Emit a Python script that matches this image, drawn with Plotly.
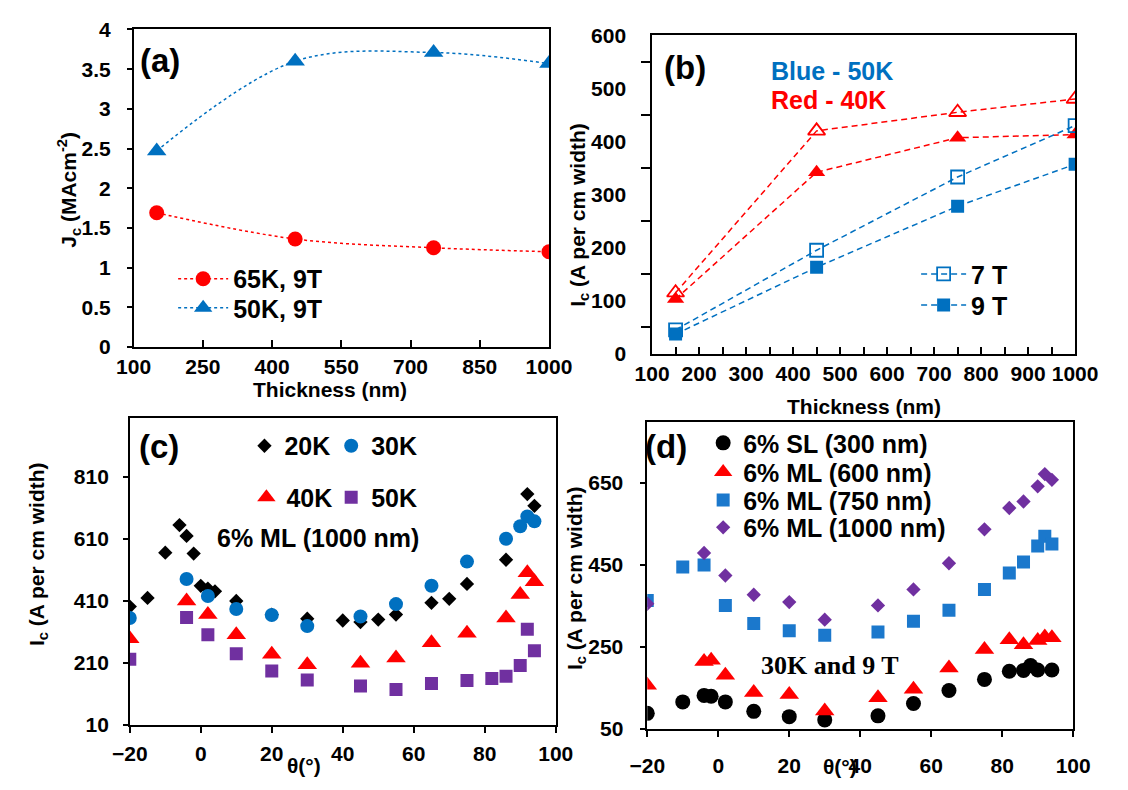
import plotly.graph_objects as go

W, H = 1128, 790
FONT = "Liberation Sans, Arial, sans-serif"
RED = "#FF0000"
BLUE = "#0070C0"
BLUE2 = "#1B78CC"
PURPLE = "#7030A0"
BLACK = "#000000"

# ---------------- data ----------------
# (a) Jc vs thickness
thick_a = [150, 450, 750, 1000]
jc_65K_9T = [1.69, 1.36, 1.25, 1.20]
jc_50K_9T = [2.47, 3.60, 3.71, 3.57]

# (b) Ic vs thickness
thick_b = [150, 450, 750, 1000]
ic_40K_7T = [115, 420, 455, 480]
ic_40K_9T = [103, 342, 407, 413]
ic_50K_7T = [45, 195, 333, 430]
ic_50K_9T = [37, 163, 278, 357]

# (c) angular Ic, 6% ML (1000 nm)
th_20K = [-20, -15, -10, -6, -4, -2, 0, 2, 4, 10, 20, 30, 40, 45, 50, 55, 65, 70, 75, 86, 92, 94]
ic_20K = [391, 419, 565, 654, 619, 562, 458, 449, 440, 409, 365, 352, 346, 341, 349, 365, 403, 416, 464, 542, 754, 716]
th_30K = [-20, -4, 2, 10, 20, 30, 45, 55, 65, 75, 86, 90, 92, 94]
ic_30K = [354, 480, 425, 383, 364, 328, 359, 399, 458, 536, 610, 650, 682, 666]
th_40K = [-20, -4, 2, 10, 20, 30, 45, 55, 65, 75, 86, 90, 92, 94]
ic_40K = [287, 409, 365, 300, 237, 203, 208, 225, 274, 305, 354, 430, 500, 471]
th_50K = [-20, -4, 2, 10, 20, 30, 45, 55, 65, 75, 82, 86, 90, 92, 94]
ic_50K = [221, 356, 300, 239, 183, 154, 135, 123, 143, 152, 159, 166, 201, 318, 248]

# (d) angular Ic at 30K and 9 T
th_SL300 = [-20, -10, -4, -2, 2, 10, 20, 30, 45, 55, 65, 75, 82, 86, 88, 90, 94]
ic_SL300 = [87, 115, 131, 129, 115, 92, 79, 71, 81, 111, 143, 170, 190, 192, 204, 193, 193]
th_ML600 = [-20, -4, -2, 2, 10, 20, 30, 45, 55, 65, 75, 82, 86, 90, 92, 94]
ic_ML600 = [156, 214, 217, 180, 138, 133, 93, 125, 146, 198, 243, 267, 255, 265, 274, 272]
th_ML750 = [-20, -10, -4, 2, 10, 20, 30, 45, 55, 65, 75, 82, 86, 90, 92, 94]
ic_ML750 = [363, 445, 450, 351, 307, 289, 278, 286, 312, 339, 390, 430, 457, 496, 520, 501]
th_ML1000 = [-20, -4, 2, 10, 20, 30, 45, 55, 65, 75, 82, 86, 90, 92, 94]
ic_ML1000 = [355, 479, 424, 377, 359, 316, 351, 390, 454, 537, 589, 605, 642, 672, 658]

# tick labels
ticks_c_y = [10, 210, 410, 610, 810]
ticks_d_y = [50, 250, 450, 650]


def fx(px):
    return px / W


def fy(py):
    return 1 - py / H


fig = go.Figure()

# ---------- (a) ----------
fig.add_trace(go.Scatter(
    x=thick_a, y=jc_65K_9T, name="65K, 9T", mode="lines+markers",
    line=dict(color=RED, dash="dot", width=1.5, shape="spline"),
    marker=dict(symbol="circle", size=15, color=RED),
    xaxis="x", yaxis="y", legend="legend"))
fig.add_trace(go.Scatter(
    x=thick_a, y=jc_50K_9T, name="50K, 9T", mode="lines+markers",
    line=dict(color=BLUE, dash="dot", width=1.5, shape="spline"),
    marker=dict(symbol="triangle-up", size=17, color=BLUE),
    xaxis="x", yaxis="y", legend="legend2"))

# ---------- (b) ----------
dash_b = "6px,4px"
fig.add_trace(go.Scatter(
    x=thick_b, y=ic_40K_7T, name="40K 7T", mode="lines+markers", showlegend=False,
    line=dict(color=RED, dash=dash_b, width=1.5),
    marker=dict(symbol="triangle-up-open", size=15, color=RED, line=dict(width=1.8)),
    xaxis="x2", yaxis="y2"))
fig.add_trace(go.Scatter(
    x=thick_b, y=ic_40K_9T, name="40K 9T", mode="lines+markers", showlegend=False,
    line=dict(color=RED, dash=dash_b, width=1.5),
    marker=dict(symbol="triangle-up", size=15, color=RED),
    xaxis="x2", yaxis="y2"))
fig.add_trace(go.Scatter(
    x=thick_b, y=ic_50K_7T, name="7 T", mode="lines+markers",
    line=dict(color=BLUE, dash=dash_b, width=1.5),
    marker=dict(symbol="square-open", size=13, color=BLUE, line=dict(width=1.8)),
    xaxis="x2", yaxis="y2", legend="legend3"))
fig.add_trace(go.Scatter(
    x=thick_b, y=ic_50K_9T, name="9 T", mode="lines+markers",
    line=dict(color=BLUE, dash=dash_b, width=1.5),
    marker=dict(symbol="square", size=13, color=BLUE),
    xaxis="x2", yaxis="y2", legend="legend4"))

# ---------- (c) ----------
fig.add_trace(go.Scatter(
    x=th_20K, y=ic_20K, name="20K", mode="markers",
    marker=dict(symbol="diamond", size=11, color=BLACK),
    xaxis="x3", yaxis="y3", legend="legend5"))
fig.add_trace(go.Scatter(
    x=th_30K, y=ic_30K, name="30K", mode="markers",
    marker=dict(symbol="circle", size=14, color=BLUE),
    xaxis="x3", yaxis="y3", legend="legend6"))
fig.add_trace(go.Scatter(
    x=th_40K, y=ic_40K, name="40K", mode="markers",
    marker=dict(symbol="triangle-up", size=17, color=RED),
    xaxis="x3", yaxis="y3", legend="legend7"))
fig.add_trace(go.Scatter(
    x=th_50K, y=ic_50K, name="50K", mode="markers",
    marker=dict(symbol="square", size=13, color=PURPLE),
    xaxis="x3", yaxis="y3", legend="legend8"))

# ---------- (d) ----------
fig.add_trace(go.Scatter(
    x=th_SL300, y=ic_SL300, name="6% SL (300 nm)", mode="markers",
    marker=dict(symbol="circle", size=15, color=BLACK),
    xaxis="x4", yaxis="y4", legend="legend9"))
fig.add_trace(go.Scatter(
    x=th_ML600, y=ic_ML600, name="6% ML (600 nm)", mode="markers",
    marker=dict(symbol="triangle-up", size=17, color=RED),
    xaxis="x4", yaxis="y4", legend="legend10"))
fig.add_trace(go.Scatter(
    x=th_ML750, y=ic_ML750, name="6% ML (750 nm)", mode="markers",
    marker=dict(symbol="square", size=13, color=BLUE2),
    xaxis="x4", yaxis="y4", legend="legend11"))
fig.add_trace(go.Scatter(
    x=th_ML1000, y=ic_ML1000, name="6% ML (1000 nm)", mode="markers",
    marker=dict(symbol="diamond", size=11, color=PURPLE),
    xaxis="x4", yaxis="y4", legend="legend12"))

# ---------------- axes ----------------
tickfont = dict(family=FONT, size=21, color=BLACK, weight="bold")


def axis(domain, rng, anchor, ticks, ticklen, **kw):
    d = dict(domain=domain, range=rng, anchor=anchor, showline=True, mirror=True,
             linecolor=BLACK, linewidth=1.5, showgrid=False, zeroline=False,
             ticks=ticks, ticklen=ticklen, tickwidth=1.5, tickcolor=BLACK,
             tickfont=tickfont)
    d.update(kw)
    return d


xa = [fx(120), fx(551)]
ya = [fy(345), fy(18)]
xb = [fx(658), fx(1097)]
yb = [fy(352), fy(24)]
xc = [fx(116), fx(558)]
yc = [fy(734), fy(418)]
xd = [fx(653), fx(1095)]
yd = [fy(738), fy(422)]

layout_axes = dict(
    xaxis=axis(xa, [100, 1000], "y", "inside", 7, tick0=100, dtick=150, ticklabelstandoff=0),
    yaxis=axis(ya, [0, 4], "x", "outside", 5, dtick=0.5, ticklabelstandoff=12),
    xaxis2=axis(xb, [100, 1000], "y2", "inside", 7, tick0=100, dtick=100, ticklabelstandoff=0,
                minor=dict(ticks="inside", ticklen=7, dtick=50, tickcolor=BLACK, tickwidth=1.5)),
    yaxis2=axis(yb, [0, 600], "x2", "", 0, dtick=100, ticklabelstandoff=20,
                minor=dict(ticks="outside", ticklen=9, tick0=50, dtick=100, tickcolor=BLACK, tickwidth=1.5)),
    xaxis3=axis(xc, [-20, 100], "y3", "outside", 7, tick0=-20, dtick=20, ticklabelstandoff=2),
    yaxis3=axis(yc, [10, 1000], "x3", "outside", 5, tickvals=ticks_c_y, ticklabelstandoff=10),
    xaxis4=axis(xd, [-20, 100], "y4", "outside", 7, tick0=-20, dtick=20, ticklabelstandoff=11),
    yaxis4=axis(yd, [50, 800], "x4", "outside", 6, tickvals=ticks_d_y, ticklabelstandoff=12),
)

# ---------------- legends ----------------
legfont = dict(family=FONT, size=25, color=BLACK, weight="bold")


def leg(xpx, ypx, itemwidth=30):
    return dict(x=fx(xpx), y=fy(ypx), xanchor="left", yanchor="middle",
                bgcolor="rgba(0,0,0,0)", borderwidth=0, font=legfont,
                itemwidth=itemwidth, tracegroupgap=0)


legends = dict(
    legend=leg(161, 275, 50),
    legend2=leg(161, 305, 50),
    legend3=leg(932, 270, 45),
    legend4=leg(932, 302, 45),
    legend5=leg(235, 447),
    legend6=leg(325, 447),
    legend7=leg(237, 500),
    legend8=leg(325, 500),
    legend9=leg(711, 444),
    legend10=leg(711, 474),
    legend11=leg(711, 503),
    legend12=leg(711, 531),
)

# ---------------- annotations ----------------
def ann(text, xpx, ypx, size, color=BLACK, xanchor="center", angle=0, family=FONT, bold=True):
    f = dict(family=family, size=size, color=color)
    if bold:
        f["weight"] = "bold"
    return dict(text=text, x=fx(xpx), y=fy(ypx), xref="paper", yref="paper",
                xanchor=xanchor, yanchor="middle", showarrow=False, font=f,
                textangle=angle)


annotations = [
    ann("(a)", 147, 50, 33),
    ann("(b)", 692, 57, 33),
    ann("(c)", 146, 448, 33),
    ann("(d)", 672, 448, 33),
    ann("Blue - 50K", 779, 61, 25, color=BLUE, xanchor="left"),
    ann("Red - 40K", 779, 91, 25, color=RED, xanchor="left"),
    ann("6% ML (1000 nm)", 311, 542, 25),
    ann("30K and 9 T", 843, 673, 26, family="Liberation Serif, Times New Roman, serif"),
    ann("Thickness (nm)", 324, 389, 21),
    ann("Thickness (nm)", 878, 406, 21),
    ann("θ(°)", 297, 776, 21),
    ann("θ(°)", 853, 777, 21),
    ann("J<sub>c</sub> (MAcm<sup>-2</sup>)", 53, 183, 21, angle=-90),
    ann("I<sub>c</sub> (A per cm width)", 582, 209, 21, angle=-90),
    ann("I<sub>c</sub> (A per cm width)", 20, 558, 21, angle=-90),
    ann("I<sub>c</sub> (A per cm width)", 579, 583, 21, angle=-90),
]

fig.update_layout(
    width=W, height=H, margin=dict(l=0, r=0, t=0, b=0),
    paper_bgcolor="white", plot_bgcolor="white",
    font=dict(family=FONT, color=BLACK),
    annotations=annotations,
    **layout_axes, **legends,
)

fig.write_html("out.html")
